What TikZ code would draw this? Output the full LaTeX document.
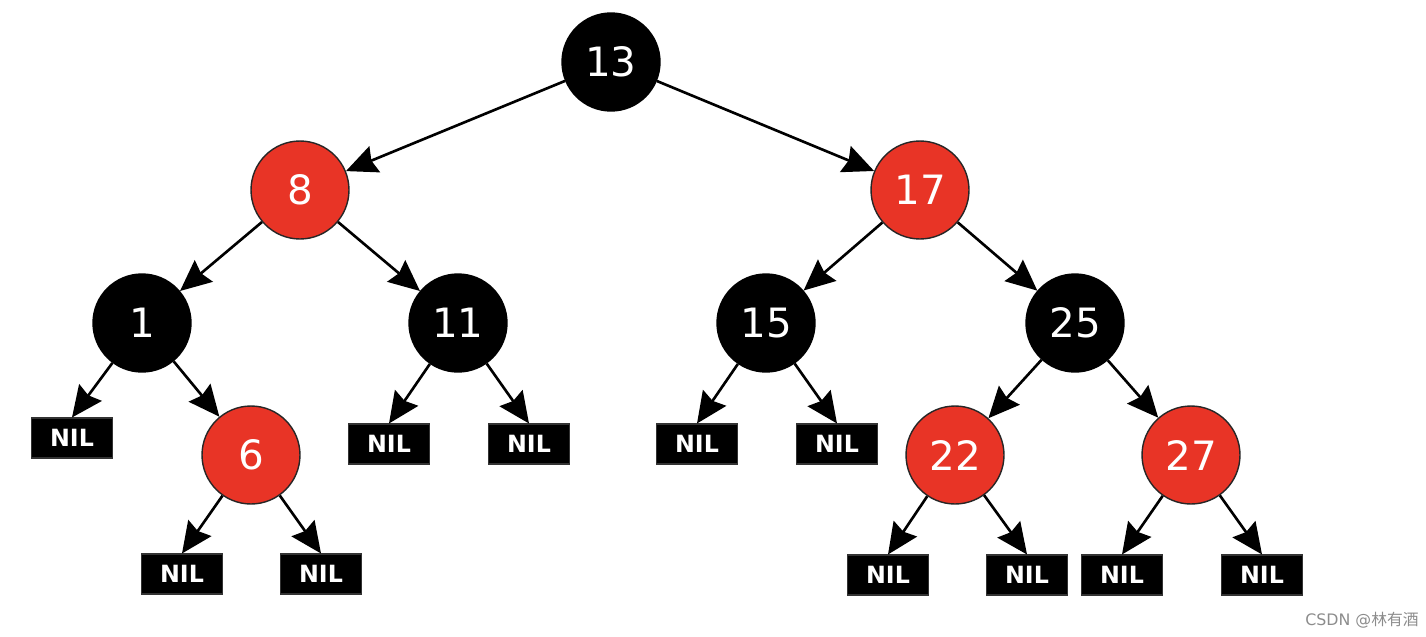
\documentclass[tikz,border=0pt]{standalone}
\usepackage{fontspec}
\setsansfont{DejaVu Sans}
\newfontfamily\cjkfont{Noto Sans CJK SC}
\usepackage{xcolor}
\usetikzlibrary{arrows.meta, positioning}
\definecolor{rbred}{RGB}{232,52,38}

\begin{document}
\begin{tikzpicture}[
    x=0.02cm, y=-0.02cm,
    blacknode/.style={circle, draw=black, line width=0.8pt, fill=black,
      minimum size=1.96cm, inner sep=0pt, text=white, font=\sffamily\fontsize{23}{23}\selectfont},
    rednode/.style={blacknode, fill=rbred, draw=black!85},
    nilbox/.style={rectangle, fill=black, draw=black!80, line width=0.6pt,
      minimum width=1.62cm, minimum height=0.8cm, inner sep=0pt,
      text=white, font=\sffamily\bfseries\fontsize{13.5}{13.5}\selectfont},
    arrow/.style={line width=1.5pt, -{Stealth[length=0.62cm, width=0.56cm, inset=0.07cm]}}
]
\useasboundingbox (0,0) rectangle (1426,636);
% tree nodes
\node[blacknode] (n13) at (611,62)  {13};
\node[rednode]   (n8)  at (300,190) {8};
\node[rednode]   (n17) at (920,190) {17};
\node[blacknode] (n1)  at (142,323) {1};
\node[blacknode] (n11) at (458,323) {11};
\node[blacknode] (n15) at (766,323) {15};
\node[blacknode] (n25) at (1075,323) {25};
\node[rednode]   (n6)  at (251,455) {6};
\node[rednode]   (n22) at (955,455) {22};
\node[rednode]   (n27) at (1191,455) {27};
% leaves
\node[nilbox] (nil1a)  at (72,438)   {NIL};
\node[nilbox] (nil11a) at (389,444)  {NIL};
\node[nilbox] (nil11b) at (529,444)  {NIL};
\node[nilbox] (nil15a) at (697,444)  {NIL};
\node[nilbox] (nil15b) at (837,444)  {NIL};
\node[nilbox] (nil6a)  at (182,574)  {NIL};
\node[nilbox] (nil6b)  at (321,574)  {NIL};
\node[nilbox] (nil22a) at (888,575)  {NIL};
\node[nilbox] (nil22b) at (1027,575) {NIL};
\node[nilbox] (nil27a) at (1122,575) {NIL};
\node[nilbox] (nil27b) at (1262,575) {NIL};
% edges
\draw[arrow] (n13) -- (n8);
\draw[arrow] (n13) -- (n17);
\draw[arrow] (n8) -- (n1);
\draw[arrow] (n8) -- (n11);
\draw[arrow] (n17) -- (n15);
\draw[arrow] (n17) -- (n25);
\draw[arrow] (n1) -- (nil1a.north);
\draw[arrow] (n1) -- (n6);
\draw[arrow] (n11) -- (nil11a.north);
\draw[arrow] (n11) -- (nil11b.north);
\draw[arrow] (n15) -- (nil15a.north);
\draw[arrow] (n15) -- (nil15b.north);
\draw[arrow] (n25) -- (n22);
\draw[arrow] (n25) -- (n27);
\draw[arrow] (n6) -- (nil6a.north);
\draw[arrow] (n6) -- (nil6b.north);
\draw[arrow] (n22) -- (nil22a.north);
\draw[arrow] (n22) -- (nil22b.north);
\draw[arrow] (n27) -- (nil27a.north);
\draw[arrow] (n27) -- (nil27b.north);
% watermark
\node[text=black!45, font=\sffamily\fontsize{9}{9}\selectfont] (mark) at (1362,620) {CSDN @{\cjkfont 林有酒}};
\end{tikzpicture}
\end{document}
